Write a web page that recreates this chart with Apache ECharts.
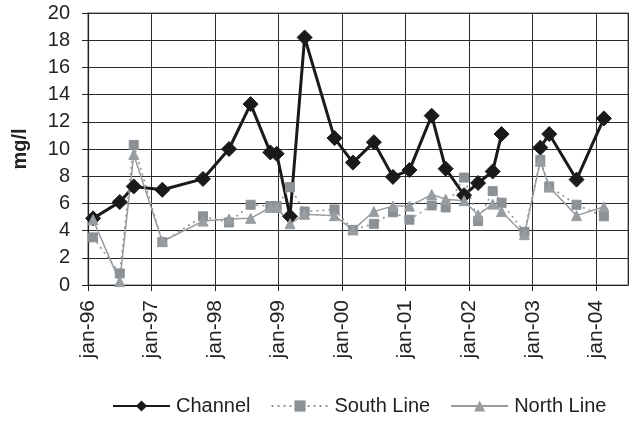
<!DOCTYPE html>
<html>
<head>
<meta charset="utf-8">
<script src="https://cdn.jsdelivr.net/npm/echarts@6/dist/echarts.min.js"></script>
<style>
html,body{margin:0;padding:0;background:#fff;}
#chart{width:634px;height:421px;}
</style>
</head>
<body>
<div id="chart"></div>
<script>
// Sampling dates as decimal years
const dates = [1996.08, 1996.50, 1996.72, 1997.17, 1997.81, 1998.22, 1998.56, 1998.87, 1998.97, 1999.18, 1999.41, 1999.88, 2000.17, 2000.50, 2000.80, 2001.06, 2001.41, 2001.63, 2001.92, 2002.14, 2002.37, 2002.51, 2002.87, 2003.12, 2003.26, 2003.69, 2004.12];
const channel = [4.9, 6.1, 7.25, 7.0, 7.8, 10.0, 13.3, 9.75, 9.65, 5.05, 18.2, 10.8, 9.0, 10.5, 7.95, 8.45, 12.45, 8.55, 6.6, 7.5, 8.35, 11.1, null, 10.1, 11.1, 7.75, 12.25];
const southLine = [3.5, 0.85, 10.3, 3.15, 5.05, 4.6, 5.9, 5.8, 5.8, 7.2, 5.4, 5.55, 4.05, 4.5, 5.35, 4.8, 5.85, 5.7, 7.9, 4.7, 6.9, 6.05, 3.9, 9.2, 7.25, 5.9, 5.05];
const northLine = [4.8, 0.25, 9.6, 3.2, 4.7, 4.85, 4.9, 5.7, 5.7, 4.5, 5.2, 5.1, 4.05, 5.4, 5.8, 5.8, 6.65, 6.3, 6.2, 5.15, 5.95, 5.4, 3.7, 9.1, 7.2, 5.1, 5.75];
const xTickLabels = ['jan-96', 'jan-97', 'jan-98', 'jan-99', 'jan-00', 'jan-01', 'jan-02', 'jan-03', 'jan-04'];
const seriesNames = ['Channel', 'South Line', 'North Line'];
const yAxisTitle = 'mg/l';

function pairs(vals) {
  return dates.map((d, i) => [d, vals[i] == null ? '-' : vals[i]]);
}

const FONT = 'Liberation Sans, Arial, sans-serif';
const chart = echarts.init(document.getElementById('chart'), null, {renderer: 'canvas'});
const grayM = '#8c9196';

chart.setOption({
  animation: false,
  backgroundColor: '#fff',
  textStyle: {fontFamily: FONT},
  grid: {left: 88, top: 13, width: 540, height: 272, show: true, borderColor: '#9a9a9a', borderWidth: 1.5},
  legend: {
    data: seriesNames,
    left: 112, top: 396, padding: 0,
    itemWidth: 57, itemHeight: 14, itemGap: 20,
    textStyle: {fontSize: 20, color: '#222', fontFamily: FONT, padding: [0, 0, 0, 1]}
  },
  xAxis: {
    type: 'value', min: 1996, max: 2004.5, interval: 1,
    axisLine: {show: true, lineStyle: {color: '#222', width: 1.2}},
    axisTick: {show: true, length: 6, inside: false, lineStyle: {color: '#222'}},
    splitLine: {show: true, lineStyle: {color: '#2a2a2a', width: 1}},
    axisLabel: {
      rotate: 90, margin: 15, fontSize: 21, color: '#222', fontFamily: FONT,
      showMaxLabel: false,
      formatter: v => { const k = Math.round(v - 1996); return Math.abs(v - 1996 - k) < 1e-6 && xTickLabels[k] ? xTickLabels[k] : ''; }
    }
  },
  yAxis: {
    type: 'value', min: 0, max: 20, interval: 2,
    name: yAxisTitle, nameLocation: 'middle', nameGap: 58, nameRotate: 90,
    nameTextStyle: {fontSize: 20, fontWeight: 'bold', color: '#222', fontFamily: FONT},
    axisLine: {show: true, lineStyle: {color: '#222', width: 1.2}},
    axisTick: {show: true, length: 6, inside: false, lineStyle: {color: '#222'}},
    splitLine: {show: true, lineStyle: {color: '#2a2a2a', width: 1}},
    axisLabel: {margin: 18, fontSize: 20, color: '#222', fontFamily: FONT}
  },
  series: [
    {
      name: seriesNames[0], type: 'line', data: pairs(channel),
      symbol: 'diamond', symbolSize: 15, connectNulls: false,
      lineStyle: {color: '#1a1a1a', width: 3},
      itemStyle: {color: '#1a1a1a', borderColor: '#1a1a1a'}
    },
    {
      name: seriesNames[1], type: 'line', data: pairs(southLine),
      symbol: 'rect', symbolSize: 9,
      lineStyle: {color: '#8f9499', width: 1.6, type: [2, 4]},
      itemStyle: {color: grayM, borderColor: grayM}
    },
    {
      name: seriesNames[2], type: 'line', data: pairs(northLine),
      symbol: 'triangle', symbolSize: 10,
      lineStyle: {color: '#979ca1', width: 1.5},
      itemStyle: {color: '#989da2', borderColor: '#989da2'}
    }
  ]
});
</script>
</body>
</html>
